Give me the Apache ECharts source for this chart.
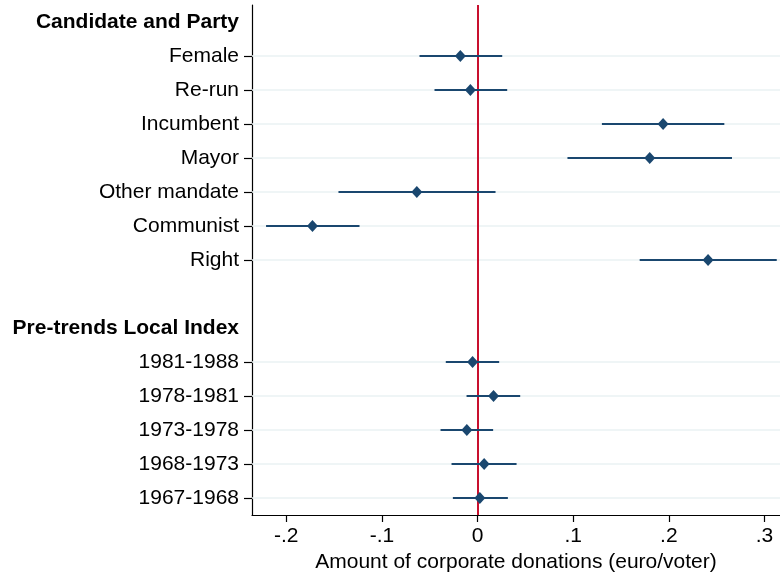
<!DOCTYPE html>
<html>
<head>
<meta charset="utf-8">
<script src="https://cdn.jsdelivr.net/npm/echarts@6/dist/echarts.min.js"></script>
<style>
html,body{margin:0;padding:0;background:#fff;}
#chart{width:780px;height:576px;}
</style>
</head>
<body>
<div id="chart"></div>
<script>
// Row labels (top to bottom); headers are bold rows without marks
const categories = ['Candidate and Party','Female','Re-run','Incumbent','Mayor','Other mandate','Communist','Right','',
  'Pre-trends Local Index','1981-1988','1978-1981','1973-1978','1968-1973','1967-1968'];
const headers = ['Candidate and Party','Pre-trends Local Index'];
// Point estimates and confidence bounds (null = no mark)
const estimates = [null,-0.018,-0.0075,0.194,0.180,-0.0635,-0.1726,0.241,null,null,-0.0052,0.0167,-0.0112,0.0069,0.0024];
const lowerCI   = [null,-0.0607,-0.045,0.130,0.094,-0.1454,-0.2211,0.1695,null,null,-0.0332,-0.0115,-0.0387,-0.0272,-0.0258];
const upperCI   = [null,0.0258,0.031,0.258,0.266,0.0188,-0.1234,0.3128,null,null,0.0226,0.0446,0.0163,0.0408,0.0317];
const xTicks = [-0.2,-0.1,0,0.1,0.2,0.3];
const xMin = -0.2358, xMax = 0.3162;
const xTitle = 'Amount of corporate donations (euro/voter)';

const navy = '#1a476f';
const font = '"Liberation Sans", Arial, sans-serif';
const fs = 21;

const labeledRows = categories.map((c,i)=>i).filter(i => categories[i] !== '' && headers.indexOf(categories[i]) < 0);
const ciData = [];
const ptData = [];
estimates.forEach((v,i)=>{
  if (v !== null) {
    ciData.push([lowerCI[i], upperCI[i], i]);
    ptData.push([v, i]);
  }
});

function fmt(v){
  if (Math.abs(v) < 1e-9) return '0';
  let s = String(Math.round(v*10)/10);
  return s.replace(/^(-?)0\./,'$1.');
}

const chart = echarts.init(document.getElementById('chart'), null, {renderer:'canvas'});
chart.setOption({
  animation:false,
  backgroundColor:'#ffffff',
  grid:{left:252, right:0, top:5, bottom:61, containLabel:false, outerBoundsMode:'none'},
  xAxis:{
    type:'value', min:xMin, max:xMax,
    name:xTitle, nameLocation:'middle', nameGap:36,
    nameTextStyle:{fontFamily:font, fontSize:fs, color:'#000'},
    axisLine:{show:true, lineStyle:{color:'#000', width:1.2}},
    axisTick:{show:true, length:7, lineStyle:{color:'#000', width:1.2}, customValues:xTicks},
    axisLabel:{fontFamily:font, fontSize:fs, color:'#000', margin:11, customValues:xTicks, formatter:fmt},
    splitLine:{show:false}
  },
  yAxis:{
    type:'category', data:categories, inverse:true,
    axisLine:{show:true, onZero:false, lineStyle:{color:'#000', width:1.2}},
    axisTick:{show:true, alignWithLabel:true, length:8, lineStyle:{color:'#000', width:1.2},
      interval:function(idx){ return labeledRows.indexOf(idx) >= 0; }},
    axisLabel:{fontFamily:font, fontSize:fs, color:'#000', margin:13, interval:0,
      formatter:function(v){ return headers.indexOf(v) >= 0 ? '{h|' + v + '}' : v; },
      rich:{h:{fontFamily:font, fontSize:fs, fontWeight:'bold', color:'#000'}}},
    splitLine:{show:false}
  },
  series:[
    {
      type:'custom', silent:true, z:1,
      data:labeledRows.map(i=>[0,i]),
      renderItem:function(params, api){
        const y = api.coord([0, api.value(1)])[1];
        const cs = params.coordSys;
        return {type:'line', shape:{x1:cs.x, y1:y, x2:cs.x+cs.width, y2:y},
          style:{stroke:'#eaf2f3', lineWidth:1.6}};
      }
    },
    {
      type:'custom', silent:true, z:3,
      data:ciData,
      encode:{x:[0,1], y:2},
      renderItem:function(params, api){
        const p1 = api.coord([api.value(0), api.value(2)]);
        const p2 = api.coord([api.value(1), api.value(2)]);
        return {type:'line', shape:{x1:p1[0], y1:p1[1], x2:p2[0], y2:p2[1]},
          style:{stroke:navy, lineWidth:2}};
      }
    },
    {
      type:'scatter', z:4, silent:true,
      data:ptData,
      symbol:'diamond', symbolSize:[11,12],
      itemStyle:{color:navy, opacity:1},
      markLine:{
        silent:true, symbol:['none','none'], label:{show:false},
        lineStyle:{color:'#c8102e', width:2, type:'solid'},
        data:[{xAxis:0}],
        z:2
      }
    }
  ]
});
</script>
</body>
</html>
